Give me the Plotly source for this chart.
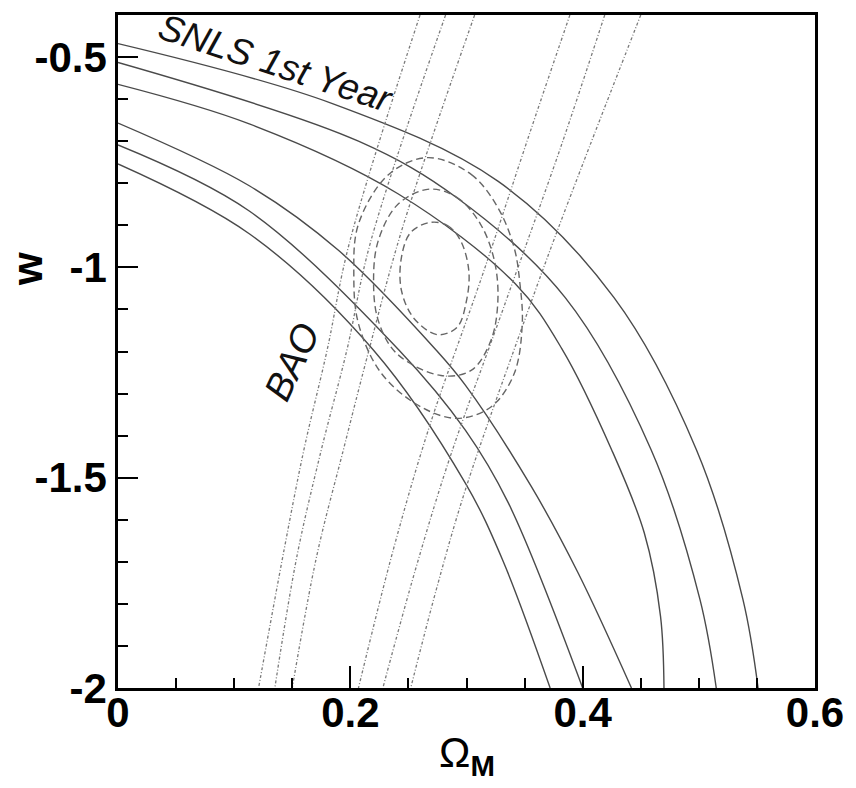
import plotly.graph_objects as go

# ---- SNLS 1st-year supernova contours (Omega_M, w), outermost upper boundary first ----
snls_c1_om = [0.000, 0.184, 0.327, 0.427, 0.498, 0.538, 0.551]
snls_c1_w = [-0.468, -0.610, -0.795, -1.072, -1.434, -1.790, -2.0]

snls_c2_om = [0.000, 0.207, 0.292, 0.385, 0.459, 0.501, 0.515]
snls_c2_w = [-0.513, -0.700, -0.835, -1.072, -1.434, -1.790, -2.0]

snls_c3_om = [0.000, 0.113, 0.241, 0.342, 0.382, 0.425, 0.453, 0.467, 0.470]
snls_c3_w = [-0.565, -0.659, -0.825, -1.039, -1.193, -1.434, -1.631, -1.829, -2.0]

snls_c4_om = [0.000, 0.113, 0.190, 0.274, 0.299, 0.356, 0.396, 0.442]
snls_c4_w = [-0.657, -0.806, -0.960, -1.197, -1.280, -1.522, -1.726, -2.0]

snls_c5_om = [0.000, 0.113, 0.242, 0.299, 0.336, 0.400]
snls_c5_w = [-0.709, -0.866, -1.197, -1.387, -1.560, -2.0]

snls_c6_om = [0.000, 0.113, 0.220, 0.299, 0.331, 0.372]
snls_c6_w = [-0.754, -0.920, -1.197, -1.513, -1.695, -2.0]

# ---- BAO band boundaries, left group then right group ----
bao_1_om = [0.260, 0.199, 0.180, 0.160, 0.143, 0.121]
bao_1_w = [-0.40, -0.944, -1.197, -1.434, -1.671, -2.0]

bao_2_om = [0.282, 0.217, 0.197, 0.175, 0.154, 0.135]
bao_2_w = [-0.40, -0.944, -1.197, -1.434, -1.687, -2.0]

bao_3_om = [0.307, 0.245, 0.216, 0.194, 0.171, 0.150]
bao_3_w = [-0.40, -0.905, -1.197, -1.434, -1.687, -2.0]

bao_4_om = [0.389, 0.356, 0.313, 0.268, 0.237, 0.207]
bao_4_w = [-0.40, -0.668, -1.024, -1.379, -1.671, -2.0]

bao_5_om = [0.419, 0.382, 0.331, 0.285, 0.256, 0.228]
bao_5_w = [-0.40, -0.707, -1.103, -1.458, -1.719, -2.0]

bao_6_om = [0.450, 0.406, 0.376, 0.353, 0.299, 0.274, 0.252]
bao_6_w = [-0.40, -0.712, -0.929, -1.103, -1.529, -1.766, -2.0]

# ---- Joint SNLS + BAO confidence contours (closed loops) ----
joint_outer_om = [0.267, 0.304, 0.327, 0.341, 0.346, 0.348, 0.341, 0.321, 0.292, 0.261, 0.227, 0.207, 0.203, 0.207, 0.233, 0.267]
joint_outer_w = [-0.739, -0.779, -0.858, -0.953, -1.039, -1.134, -1.253, -1.332, -1.359, -1.332, -1.253, -1.134, -1.016, -0.897, -0.779, -0.739]

joint_mid_om = [0.268, 0.292, 0.312, 0.324, 0.327, 0.321, 0.304, 0.278, 0.240, 0.224, 0.220, 0.224, 0.241, 0.268]
joint_mid_w = [-0.814, -0.834, -0.897, -0.984, -1.079, -1.174, -1.245, -1.257, -1.205, -1.126, -1.032, -0.937, -0.850, -0.814]

joint_inner_om = [0.269, 0.284, 0.295, 0.302, 0.300, 0.292, 0.275, 0.255, 0.244, 0.244, 0.252, 0.269]
joint_inner_w = [-0.893, -0.901, -0.937, -1.008, -1.079, -1.142, -1.160, -1.122, -1.055, -0.976, -0.917, -0.893]

# Axis ticks and labels
x_tick_vals = [0, 0.2, 0.4, 0.6]
x_tick_text = ["0", "0.2", "0.4", "0.6"]
x_minor_vals = [0.05, 0.1, 0.15, 0.25, 0.3, 0.35, 0.45, 0.5, 0.55]
y_tick_vals = [-2, -1.5, -1, -0.5]
y_tick_text = ["-2", "-1.5", "-1", "-0.5"]
y_minor_vals = [-1.9, -1.8, -1.7, -1.6, -1.4, -1.3, -1.2, -1.1, -0.9, -0.8, -0.7, -0.6]

FONT = "Liberation Sans"

fig = go.Figure()

snls_sets = [
    (snls_c1_om, snls_c1_w), (snls_c2_om, snls_c2_w), (snls_c3_om, snls_c3_w),
    (snls_c4_om, snls_c4_w), (snls_c5_om, snls_c5_w), (snls_c6_om, snls_c6_w),
]
for om, w in snls_sets:
    fig.add_trace(go.Scatter(
        x=om, y=w, mode="lines",
        line=dict(color="#4a4a4a", width=1.4, shape="spline", smoothing=1.0),
        hoverinfo="skip",
    ))

bao_sets = [
    (bao_1_om, bao_1_w), (bao_2_om, bao_2_w), (bao_3_om, bao_3_w),
    (bao_4_om, bao_4_w), (bao_5_om, bao_5_w), (bao_6_om, bao_6_w),
]
for om, w in bao_sets:
    fig.add_trace(go.Scatter(
        x=om, y=w, mode="lines",
        line=dict(color="#7a7a7a", width=1.3, shape="spline", smoothing=1.0,
                  dash="3px,2px,1px,2px"),
        hoverinfo="skip",
    ))

joint_sets = [
    (joint_outer_om, joint_outer_w), (joint_mid_om, joint_mid_w), (joint_inner_om, joint_inner_w),
]
for om, w in joint_sets:
    fig.add_trace(go.Scatter(
        x=om, y=w, mode="lines",
        line=dict(color="#666666", width=1.4, shape="spline", smoothing=1.0, dash="7px,4px"),
        hoverinfo="skip",
    ))

fig.add_annotation(
    x=0.1363, y=-0.515, xref="x", yref="y",
    text="<i>SNLS 1st Year</i>", showarrow=False, textangle=18,
    font=dict(family=FONT, size=37, color="#111111"),
    xanchor="center", yanchor="middle",
)
fig.add_annotation(
    x=0.1496, y=-1.225, xref="x", yref="y",
    text="<i>BAO</i>", showarrow=False, textangle=-65,
    font=dict(family=FONT, size=38, color="#111111"),
    xanchor="center", yanchor="middle",
)

# Axis titles
fig.add_annotation(
    x=-0.1296, y=0.6222, xref="paper", yref="paper",
    text="<b>w</b>", showarrow=False, textangle=-90,
    font=dict(family=FONT, size=42, color="black"),
    xanchor="center", yanchor="middle",
)
fig.add_annotation(
    x=0.5, y=-0.1007, xref="paper", yref="paper",
    text="Ω<sub><b>M</b></sub>", showarrow=False,
    font=dict(family=FONT, size=42, color="black"),
    xanchor="center", yanchor="middle",
)

axis_common = dict(
    ticks="inside", tickwidth=2, tickcolor="black",
    showline=True, linewidth=2.5, linecolor="black", mirror=True,
    showgrid=False, zeroline=False,
    tickfont=dict(family=FONT, size=42, color="black", weight="bold"),
)

fig.update_xaxes(
    range=[0, 0.6], tickmode="array", tickvals=x_tick_vals, ticktext=x_tick_text,
    ticklen=22, ticklabelstandoff=-14,
    minor=dict(ticks="inside", ticklen=10, tickwidth=2, tickcolor="black",
               tickmode="array", tickvals=x_minor_vals, showgrid=False),
    **axis_common,
)
fig.update_yaxes(
    range=[-2, -0.4], tickmode="array", tickvals=y_tick_vals, ticktext=y_tick_text,
    ticklen=20,
    minor=dict(ticks="inside", ticklen=10, tickwidth=2, tickcolor="black",
               tickmode="array", tickvals=y_minor_vals, showgrid=False),
    **axis_common,
)

fig.update_layout(
    width=856, height=788,
    margin=dict(l=118, r=36, t=13, b=100),
    plot_bgcolor="white", paper_bgcolor="white",
    showlegend=False,
    font=dict(family=FONT, color="black"),
)

fig.write_html("out.html")
